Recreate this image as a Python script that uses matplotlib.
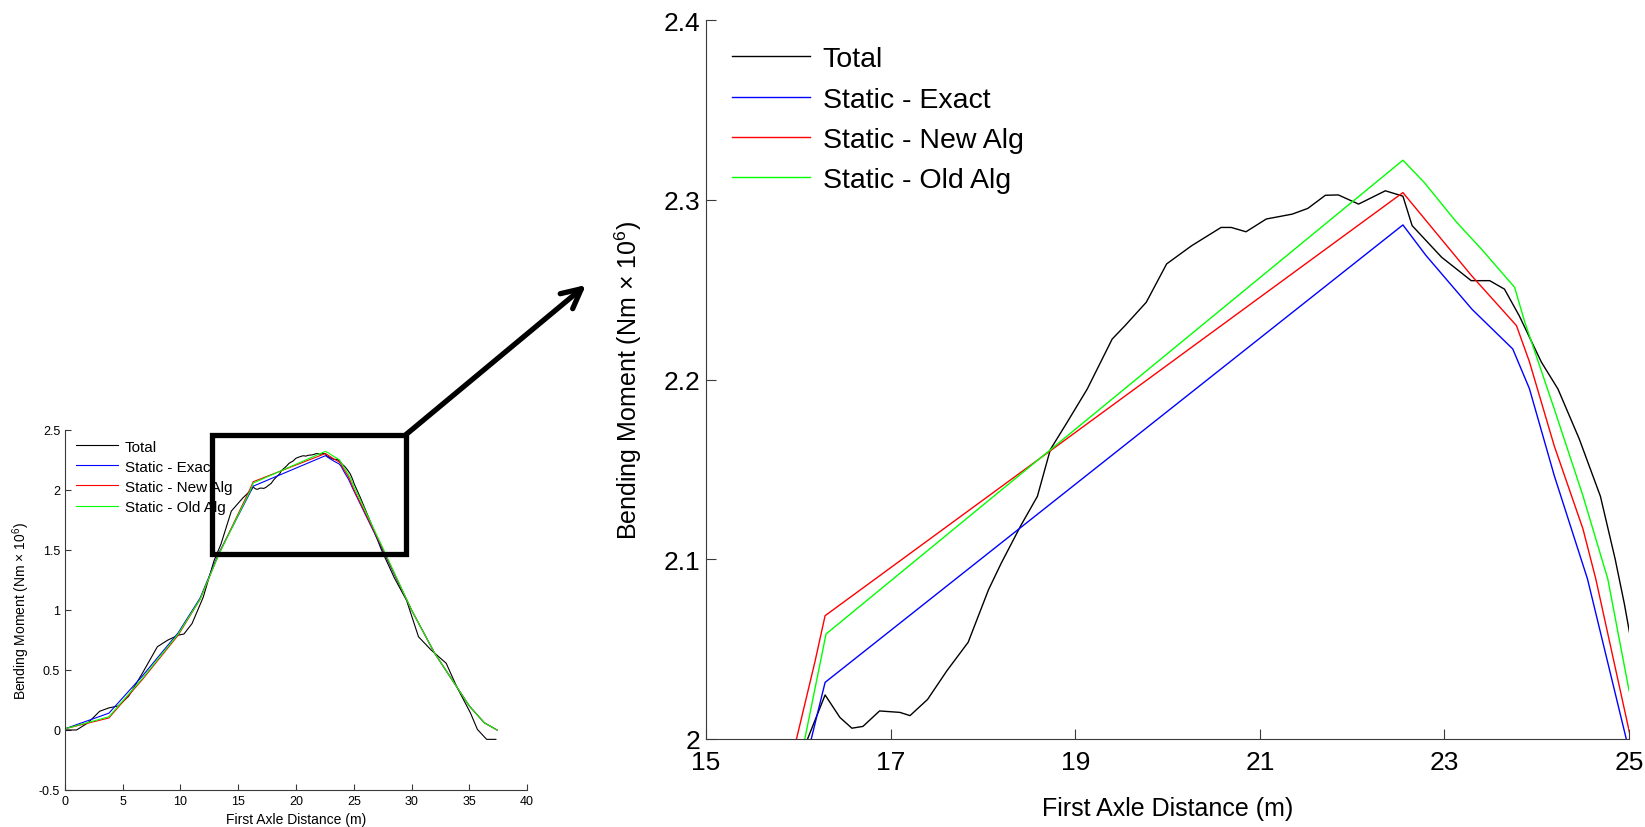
import matplotlib
matplotlib.use("Agg")
import matplotlib.pyplot as plt
from matplotlib.patches import Rectangle

plt.rcParams["font.family"] = ["Liberation Sans", "DejaVu Sans"]
plt.rcParams["mathtext.fontset"] = "custom"
plt.rcParams["mathtext.rm"] = "Liberation Sans"

# --- data ---
total_x = [0.0, 1.0, 2.0, 3.0, 3.8, 4.6, 5.5, 6.7, 8.0, 8.9, 9.8, 10.3, 11.0, 11.97,
           12.9, 13.5, 14.4, 15.4, 15.9, 16.1, 16.29, 16.45, 16.58, 16.7, 16.88, 17.1,
           17.21, 17.4, 17.61, 17.84, 18.06, 18.2, 18.41, 18.59, 18.73, 18.91, 19.13,
           19.4, 19.54, 19.77, 19.99, 20.26, 20.58, 20.69, 20.85, 21.07, 21.35, 21.52,
           21.71, 21.85, 22.07, 22.36, 22.55, 22.65, 22.97, 23.29, 23.49, 23.65, 23.81,
           24.05, 24.23, 24.46, 24.69, 24.85, 24.95, 25.02, 25.6, 26.5, 27.4, 28.5,
           29.57, 30.6, 31.7, 33.0, 33.9, 35.1, 35.7, 36.5, 37.3]
total_y = [0.0, 0.0, 0.06, 0.156, 0.184, 0.2, 0.28, 0.473, 0.694, 0.749, 0.79, 0.8, 0.887,
           1.107, 1.41, 1.548, 1.824, 1.934, 1.98, 2.0, 2.0245, 2.012, 2.006, 2.007,
           2.0156, 2.0148, 2.013, 2.022, 2.038, 2.0538, 2.083, 2.098, 2.1187, 2.135,
           2.161, 2.176, 2.1947, 2.2225, 2.23, 2.243, 2.2643, 2.2744, 2.2846, 2.2846,
           2.2822, 2.2893, 2.292, 2.2952, 2.3025, 2.3027, 2.2976, 2.305, 2.302, 2.2856,
           2.268, 2.255, 2.255, 2.2503, 2.2355, 2.2097, 2.1947, 2.167, 2.135, 2.10,
           2.075, 2.055, 1.93, 1.72, 1.50, 1.27, 1.08, 0.777, 0.666, 0.556, 0.363,
           0.142, 0.005, -0.078, -0.078]

exact_x = [0.0, 3.8, 6.7, 9.8, 11.7, 13.3, 16.14, 16.29, 22.55, 22.8, 23.3, 23.74, 23.92,
           24.19, 24.55, 24.97, 27.4, 30.0, 32.0, 35.0, 36.3, 37.4]
exact_y = [0.01, 0.14, 0.45, 0.81, 1.10, 1.47, 2.0, 2.0315, 2.286, 2.269, 2.239, 2.217,
           2.195, 2.1465, 2.089, 2.0, 1.52, 1.0, 0.64, 0.2, 0.06, 0.0]

new_x = [0.0, 3.8, 6.7, 9.8, 11.7, 13.3, 15.98, 16.18, 16.29, 22.55, 23.29, 23.78, 23.92,
         24.19, 24.5, 24.64, 25.02, 27.45, 30.0, 32.0, 35.0, 36.3, 37.4]
new_y = [0.01, 0.10, 0.42, 0.79, 1.09, 1.46, 2.0, 2.043, 2.0686, 2.304, 2.258, 2.23, 2.21,
         2.163, 2.117, 2.089, 2.0, 1.52, 1.0, 0.64, 0.2, 0.06, 0.0]

old_x = [0.0, 3.8, 6.7, 9.8, 11.7, 13.3, 16.07, 16.3, 22.55, 22.78, 23.13, 23.4, 23.76,
         23.87, 24.19, 24.5, 24.77, 25.0, 25.15, 27.5, 30.0, 32.0, 35.0, 36.3, 37.4]
old_y = [0.01, 0.11, 0.43, 0.80, 1.09, 1.46, 2.0, 2.0584, 2.322, 2.3097, 2.2876, 2.2726,
         2.2513, 2.232, 2.1836, 2.1354, 2.089, 2.027, 2.0, 1.52, 1.0, 0.64, 0.2, 0.06, 0.0]

labels = ["Total", "Static - Exact", "Static - New Alg", "Static - Old Alg"]
colors = ["#000000", "#0000ff", "#ff0000", "#00ff00"]

# zoom box on the small axes (data units)
box_x = [12.75, 29.5]
box_y = [1.47, 2.46]

series = [(total_x, total_y), (exact_x, exact_y), (new_x, new_y), (old_x, old_y)]

fig = plt.figure(figsize=(16.45, 8.28), dpi=100)
ax_small = fig.add_axes([0.0395, 0.0447, 0.2809, 0.4348])
ax_big = fig.add_axes([0.4292, 0.1063, 0.5611, 0.8683])


def style_axes(ax, size, ticklen, xpad, ypad):
    for side in ["top", "right"]:
        ax.spines[side].set_visible(False)
    for side in ["left", "bottom"]:
        ax.spines[side].set_color("#3a3a3a")
        ax.spines[side].set_linewidth(0.8)
    ax.tick_params(direction="in", length=ticklen, width=0.8, labelsize=size,
                   color="#3a3a3a", top=False, right=False)
    ax.tick_params(axis="x", pad=xpad)
    ax.tick_params(axis="y", pad=ypad)


for (x, y), lab, c in zip(series, labels, colors):
    ax_small.plot(x, y, color=c, lw=0.8, label=lab)
    ax_big.plot(x, y, color=c, lw=1.0, label=lab)

ax_small.set_xlim(0, 40)
ax_small.set_ylim(-0.5, 2.5)
ax_small.set_xticks([0, 5, 10, 15, 20, 25, 30, 35, 40])
ax_small.set_yticks([-0.5, 0, 0.5, 1, 1.5, 2, 2.5])
ax_small.set_yticklabels(["-0.5", "0", "0.5", "1", "1.5", "2", "2.5"])
style_axes(ax_small, 9, 4, 3.5, 3.5)
ax_small.set_xlabel("First Axle Distance (m)", fontsize=10, labelpad=4)
ax_small.set_ylabel("Bending Moment (Nm × 10$^{\\mathregular{6}}$)", fontsize=10, labelpad=5)
ax_small.legend(loc="upper left", frameon=False, fontsize=11, handlelength=2.8,
                handletextpad=0.4, borderaxespad=0.3, labelspacing=0.4,
                bbox_to_anchor=(0.0, 1.003))

ax_big.set_xlim(15, 25)
ax_big.set_ylim(2.0, 2.4)
ax_big.set_xticks([15, 17, 19, 21, 23, 25])
ax_big.set_yticks([2.0, 2.1, 2.2, 2.3, 2.4])
ax_big.set_yticklabels(["2", "2.1", "2.2", "2.3", "2.4"])
style_axes(ax_big, 19, 7, 8, 4)
ax_big.set_xlabel("First Axle Distance (m)", fontsize=18, labelpad=16)
ax_big.set_ylabel("Bending Moment (Nm × 10$^{\\mathregular{6}}$)", fontsize=18, labelpad=14)
ax_big.legend(loc="upper left", frameon=False, fontsize=20.5, handlelength=2.75,
              handletextpad=0.45, borderaxespad=0.3, labelspacing=0.5,
              bbox_to_anchor=(0.006, 0.991))

ax_small.add_patch(Rectangle((box_x[0], box_y[0]), box_x[1] - box_x[0], box_y[1] - box_y[0],
                             fill=False, lw=3.8, edgecolor="black", clip_on=False, zorder=5))
ax_small.annotate("", xy=(0.3562, 0.6546), xycoords="figure fraction",
                  xytext=(box_x[1], box_y[1]), textcoords="data",
                  arrowprops=dict(arrowstyle="->", lw=3.8, color="black",
                                  mutation_scale=35, shrinkA=0, shrinkB=0))

fig.savefig("out.png", dpi=100)
